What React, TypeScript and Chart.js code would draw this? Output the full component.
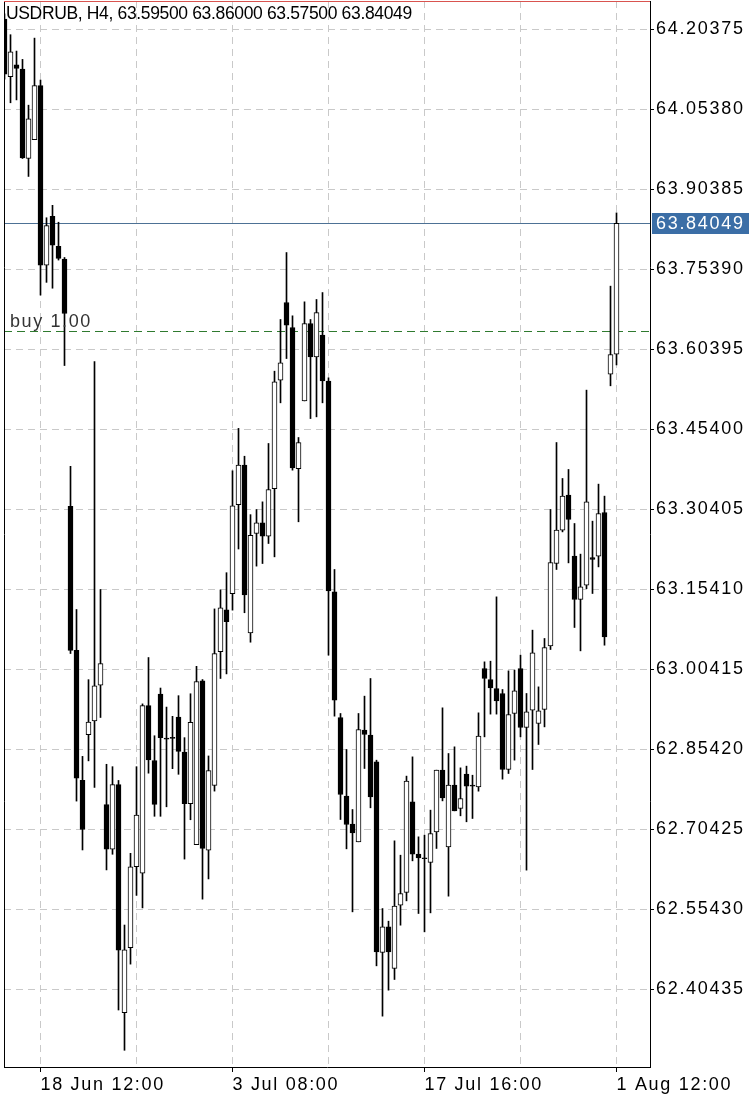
import React, { useEffect, useRef } from 'react';
import { Chart, registerables } from 'chart.js';

Chart.register(...registerables);

// ---- data (H4 candles, left to right) ----
const opens = [
  64.2232, 64.1153, 64.1373, 64.1295, 63.9619, 63.9974, 64.0986, 63.7620, 63.8536, 63.7974,
  63.7735, 63.3100, 63.0401, 62.7962, 62.8819, 62.9077, 62.9748, 62.7510, 62.6672, 62.7884,
  62.3608, 62.4828, 62.6344, 62.6222, 62.9365, 62.8335, 62.9580, 62.8752, 62.8767, 62.9151,
  62.8492, 62.7525, 62.6759, 62.9830, 62.6653, 62.7869, 63.0374, 63.1162, 63.1462, 63.3130,
  63.3874, 63.0725, 63.2591, 63.2790, 63.2541, 63.3433, 63.5465, 63.6920, 63.6452, 63.3808,
  63.5076, 63.6527, 63.5901, 63.6308, 63.5446, 63.1497, 62.9142, 62.7668, 62.7143, 62.6812,
  62.8905, 62.8810, 62.8311, 62.4737, 62.5218, 62.4437, 62.5624, 62.5862, 62.7561, 62.6581,
  62.6503, 62.6424, 62.6999, 62.8155, 62.6717, 62.7873, 62.7436, 62.8080, 62.7867, 62.7842,
  63.0060, 62.9854, 62.9685, 62.9592, 62.8167, 62.9217, 63.0060, 62.8954, 62.9280, 62.9029,
  62.9292, 63.0485, 63.2028, 63.2654, 63.3309, 63.2166, 63.1354, 63.1622, 63.2141, 63.2166,
  63.2984, 63.5578, 63.5950,
];
const highs = [
  64.2330, 64.1940, 64.1633, 64.1477, 64.0619, 64.1876, 64.1090, 63.8509, 63.8742, 63.8425,
  63.7764, 63.3850, 63.1166, 62.8413, 62.9851, 63.5815, 63.1541, 62.8265, 62.8220, 62.7962,
  62.5252, 62.6596, 62.8220, 62.9397, 63.0266, 62.8800, 62.9694, 62.9337, 62.9164, 62.9551,
  62.8764, 62.9587, 63.0101, 62.9853, 62.8421, 63.1177, 63.1533, 63.1856, 63.3766, 63.4561,
  63.4039, 63.2944, 63.3040, 63.3184, 63.4278, 63.5633, 63.6602, 63.7857, 63.6671, 63.4390,
  63.6933, 63.6602, 63.6977, 63.7107, 63.5509, 63.1916, 62.9217, 62.8542, 62.7417, 62.9217,
  62.9542, 62.9873, 62.8342, 62.5561, 62.5324, 62.6830, 62.6561, 62.8043, 62.8404, 62.6905,
  62.6936, 62.7405, 62.8155, 62.9323, 62.8467, 62.8592, 62.8198, 62.8230, 62.8060, 62.9229,
  63.0185, 63.0197, 63.1403, 62.9667, 63.0016, 63.0029, 63.0310, 62.9592, 63.0779, 62.9716,
  63.0623, 63.3041, 63.4296, 63.3622, 63.3791, 63.2778, 63.2204, 63.5278, 63.2822, 63.3516,
  63.3291, 63.7227, 63.8600,
];
const lows = [
  64.1108, 64.0664, 64.0718, 63.9620, 63.9283, 63.9974, 63.7059, 63.7298, 63.7188, 63.7716,
  63.5739, 63.0341, 62.7575, 62.6659, 62.8329, 62.7833, 62.9142, 62.6285, 62.6578, 62.3659,
  62.2904, 62.4519, 62.5808, 62.5573, 62.8098, 62.7290, 62.7290, 62.7468, 62.8183, 62.8077,
  62.6488, 62.7225, 62.6759, 62.5737, 62.6116, 62.7762, 62.9873, 62.9959, 63.1154, 63.2300,
  63.1105, 63.0553, 63.1979, 63.2028, 63.2403, 63.2153, 63.5040, 63.5870, 63.3778, 63.2810,
  63.5076, 63.4745, 63.4777, 63.5040, 63.0311, 62.9167, 62.7230, 62.6680, 62.5499, 62.6812,
  62.8186, 62.7449, 62.4487, 62.3544, 62.4031, 62.4231, 62.5249, 62.5705, 62.6455, 62.5468,
  62.5124, 62.5480, 62.6687, 62.7579, 62.5793, 62.7392, 62.7299, 62.7187, 62.7249, 62.7761,
  62.8779, 62.9205, 62.9205, 62.7986, 62.8092, 62.8343, 62.8779, 62.6281, 62.8167, 62.8636,
  62.8966, 63.0416, 63.1916, 63.2621, 63.2040, 63.0829, 63.0391, 63.1556, 63.1466, 63.1965,
  63.0497, 63.5359, 63.5750,
];
const closes = [
  64.1198, 64.1618, 64.1309, 63.9632, 64.0361, 64.0986, 63.7620, 63.8361, 63.7993, 63.7749,
  63.6714, 63.0401, 62.8006, 62.7043, 62.9058, 62.9736, 63.0154, 62.6672, 62.7884, 62.4781,
  62.4789, 62.6344, 62.7311, 62.9365, 62.8349, 62.7512, 62.8764, 62.8737, 62.8752, 62.8506,
  62.7525, 62.9050, 62.9817, 62.6689, 62.8148, 63.0338, 63.1198, 63.0940, 63.3108, 63.3874,
  63.1441, 63.2558, 63.2790, 63.2541, 63.3415, 63.5434, 63.5789, 63.6495, 63.3822, 63.4296,
  63.6527, 63.5901, 63.6732, 63.5452, 63.1515, 62.9467, 62.7698, 62.7136, 62.6980, 62.8917,
  62.8823, 62.7654, 62.4750, 62.5218, 62.4750, 62.5606, 62.5843, 62.7948, 62.6581, 62.6512,
  62.6495, 62.6968, 62.8155, 62.7636, 62.7873, 62.7392, 62.7624, 62.7855, 62.7855, 62.8793,
  62.9873, 62.9698, 62.9454, 62.8167, 62.9198, 62.9641, 62.8954, 62.9248, 63.0356, 62.9266,
  63.0454, 63.2047, 63.2654, 63.3291, 63.2853, 63.1354, 63.1591, 63.3185, 63.2103, 63.2965,
  63.0653, 63.5946, 63.84049,
];
const barIndex = opens.map((_, i) => i);

const xTickPositions = [6, 22, 38, 54, 70, 86, 102];
const xTickLabels = ['18 Jun 12:00', '', '3 Jul 08:00', '', '17 Jul 16:00', '', '1 Aug 12:00'];
const yTickValues = [
  64.20375, 64.0538, 63.90385, 63.7539, 63.60395, 63.454, 63.30405,
  63.1541, 63.00415, 62.8542, 62.70425, 62.5543, 62.40435,
];

const titleText = 'USDRUB, H4, 63.59500 63.86000 63.57500 63.84049';
const lastPrice = 63.84049;
const buyLevel = 63.6377;
const buyText = 'buy 1.00';

const FONT = '"Liberation Sans", Arial, Helvetica, sans-serif';

const overlayPlugin = {
  id: 'mtOverlay',
  beforeDraw(chart: any) {
    (chart.ctx as any).letterSpacing = '1.7px';
  },
  beforeDatasetsDraw(chart: any) {
    const { ctx, chartArea, scales } = chart;
    (ctx as any).letterSpacing = '0px';
    const y = scales.y;
    ctx.save();
    // buy level (green dashed)
    const yg = Math.round(y.getPixelForValue(buyLevel)) + 0.5;
    ctx.strokeStyle = '#2f7a2f';
    ctx.lineWidth = 1;
    ctx.setLineDash([8, 5]);
    ctx.beginPath();
    ctx.moveTo(chartArea.left, yg);
    ctx.lineTo(chartArea.right, yg);
    ctx.stroke();
    // last price (blue solid)
    const yb = Math.round(y.getPixelForValue(lastPrice)) + 0.5;
    ctx.setLineDash([]);
    ctx.strokeStyle = '#4d7195';
    ctx.beginPath();
    ctx.moveTo(chartArea.left, yb);
    ctx.lineTo(chartArea.right, yb);
    ctx.stroke();
    ctx.restore();
  },
  afterDraw(chart: any) {
    const { ctx, chartArea, scales } = chart;
    const y = scales.y;
    ctx.save();
    (ctx as any).letterSpacing = '0px';
    // left frame
    ctx.strokeStyle = '#000';
    ctx.lineWidth = 1;
    ctx.beginPath();
    ctx.moveTo(chartArea.left + 0.5, chartArea.top);
    ctx.lineTo(chartArea.left + 0.5, chartArea.bottom + 1);
    ctx.stroke();
    // top red line
    ctx.strokeStyle = '#d9534f';
    ctx.beginPath();
    ctx.moveTo(chartArea.left, chartArea.top + 0.5);
    ctx.lineTo(chartArea.right, chartArea.top + 0.5);
    ctx.stroke();
    // title
    ctx.fillStyle = '#000';
    ctx.font = `17.5px ${FONT}`;
    (ctx as any).letterSpacing = '-0.35px';
    ctx.textBaseline = 'alphabetic';
    ctx.textAlign = 'left';
    ctx.fillText(titleText, 6, 19);
    // buy label
    (ctx as any).letterSpacing = '1.6px';
    ctx.fillStyle = '#333';
    ctx.font = `18px ${FONT}`;
    const yg = y.getPixelForValue(buyLevel);
    ctx.fillText(buyText, 10, yg - 4);
    // last price box
    const yb = Math.round(y.getPixelForValue(lastPrice));
    ctx.fillStyle = '#3b6ea6';
    ctx.fillRect(chartArea.right + 2, yb - 10, 97, 21);
    ctx.fillStyle = '#fff';
    ctx.font = `18px ${FONT}`;
    (ctx as any).letterSpacing = '1.7px';
    ctx.textBaseline = 'middle';
    ctx.fillText(lastPrice.toFixed(5), chartArea.right + 6, yb + 1);
    ctx.restore();
  },
};

export default function App() {
  const canvasRef = useRef<HTMLCanvasElement | null>(null);

  useEffect(() => {
    document.body.style.margin = '0';
    const canvas = canvasRef.current;
    if (!canvas) return;
    const labeled = new Set(xTickPositions.filter((_, k) => xTickLabels[k] !== ''));

    const chart = new Chart(canvas, {
      type: 'bar',
      data: {
        datasets: [
          {
            label: 'body',
            data: barIndex.map((i) => ({ x: i, y: [opens[i], closes[i]] })) as any,
            barThickness: 5,
            grouped: false,
            order: 0,
            minBarLength: 1,
            borderWidth: 1,
            borderColor: '#000',
            borderSkipped: false,
            backgroundColor: (c: any) =>
              closes[c.dataIndex] >= opens[c.dataIndex] ? '#ffffff' : '#000000',
          } as any,
          {
            label: 'wick',
            data: barIndex.map((i) => ({ x: i, y: [lows[i], highs[i]] })) as any,
            barThickness: 1,
            grouped: false,
            order: 1,
            borderWidth: 0,
            backgroundColor: '#000',
          } as any,
        ],
      },
      options: {
        animation: false,
        responsive: false,
        devicePixelRatio: 1,
        events: [],
        layout: { padding: { left: 4, top: 1, right: 0, bottom: 0 } },
        plugins: { legend: { display: false }, tooltip: { enabled: false } },
        scales: {
          x: {
            type: 'linear',
            min: -1 / 12,
            max: -1 / 12 + 646 / 6,
            offset: false,
            bounds: 'data',
            grid: {
              offset: false,
              color: '#c9c9c9',
              lineWidth: 1,
              drawTicks: true,
              tickLength: 5,
              tickColor: (c: any) => (c.tick && labeled.has(c.tick.value) ? '#000' : 'rgba(0,0,0,0)'),
            },
            border: { display: true, color: '#000', width: 1, dash: [7, 5] },
            afterBuildTicks: (s: any) => {
              s.ticks = xTickPositions.map((v) => ({ value: v }));
            },
            afterFit: (s: any) => {
              s.height = 32;
              s.paddingLeft = 0;
              s.paddingRight = 0;
            },
            ticks: {
              autoSkip: false,
              maxRotation: 0,
              minRotation: 0,
              align: 'start',
              padding: 2,
              color: '#000',
              font: { family: FONT, size: 18 },
              callback: (v: any) => {
                const k = xTickPositions.indexOf(Number(v));
                return k >= 0 ? xTickLabels[k] : '';
              },
            },
          } as any,
          y: {
            type: 'linear',
            position: 'right',
            min: 64.20375 - 1037.5 / 533.511,
            max: 64.20375 + 28.5 / 533.511,
            bounds: 'data',
            grid: {
              color: '#c9c9c9',
              lineWidth: 1,
              drawTicks: true,
              tickLength: 4,
              tickColor: '#000',
            },
            border: { display: true, color: '#000', width: 1, dash: [7, 5] },
            afterBuildTicks: (s: any) => {
              s.ticks = yTickValues.map((v) => ({ value: v }));
            },
            afterFit: (s: any) => {
              s.width = 100;
              s.paddingTop = 0;
              s.paddingBottom = 0;
            },
            ticks: {
              autoSkip: false,
              padding: 2,
              color: '#000',
              font: { family: FONT, size: 18 },
              callback: (v: any) => Number(v).toFixed(5),
            },
          } as any,
        },
      },
      plugins: [overlayPlugin],
    });

    return () => {
      chart.destroy();
    };
  }, []);

  return (
    <div style={{ width: 750, height: 1099, background: '#fff' }}>
      <canvas ref={canvasRef} width={750} height={1099} style={{ display: 'block', width: 750, height: 1099 }} />
    </div>
  );
}
